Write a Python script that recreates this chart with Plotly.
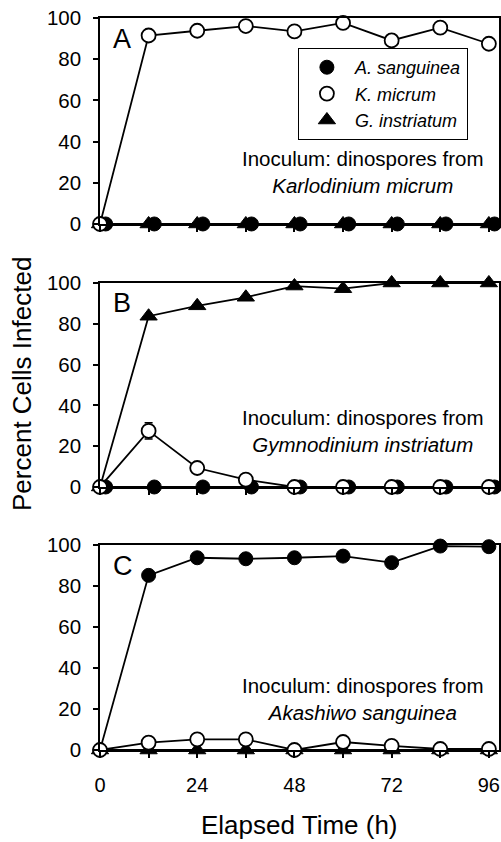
import plotly.graph_objects as go
from plotly.subplots import make_subplots

# ---------------- data ----------------
hours = [0, 12, 24, 36, 48, 60, 72, 84, 96]
x_tick_vals = [0, 12, 24, 36, 48, 60, 72, 84, 96]
x_tick_text = ["0", "", "24", "", "48", "", "72", "", "96"]
y_tick_vals = [0, 20, 40, 60, 80, 100]

# Panel A: inoculum from Karlodinium micrum
A_asanguinea = [0, 0, 0, 0, 0, 0, 0, 0, 0]
A_kmicrum = [0, 91.5, 93.8, 96.1, 93.5, 97.6, 89.1, 95.3, 87.5]
A_ginstriatum = [0, 0, 0, 0, 0, 0, 0, 0, 0]

# Panel B: inoculum from Gymnodinium instriatum
B_asanguinea = [0, 0, 0, 0, 0, 0, 0, 0, 0]
B_kmicrum = [0, 27.5, 9.3, 3.6, 0, 0, 0, 0, 0]
B_kmicrum_err = [0, 4.0, 0, 0, 0, 0, 0, 0, 0]
B_ginstriatum = [0, 83.7, 88.8, 93.0, 98.5, 97.2, 100, 100, 100]

# Panel C: inoculum from Akashiwo sanguinea
C_asanguinea = [0, 85.2, 93.8, 93.3, 93.8, 94.6, 91.4, 99.5, 99.2]
C_kmicrum = [0, 3.6, 5.2, 5.2, 0, 3.9, 2.0, 0.5, 0.5]
C_ginstriatum = [0, 0, 0, 0, 0, 0, 0, 0, 0]

panel_letters = ["A", "B", "C"]
inoculum_species = ["Karlodinium micrum", "Gymnodinium instriatum", "Akashiwo sanguinea"]
series_names = ["A. sanguinea", "K. micrum", "G. instriatum"]

# ---------------- style ----------------
FONT = "Liberation Sans, Arial, Helvetica, sans-serif"
BLACK = "black"
LW = 1.8
filled_shift = [1.4, 1.4, 0.0]   # small horizontal display offset of overlapping series

fig = make_subplots(rows=3, cols=1, shared_xaxes=False, vertical_spacing=0.0)

domains = [[0.7186, 1.0], [0.3593, 0.638], [0.0, 0.280]]

panels = [
    (A_asanguinea, A_kmicrum, None, A_ginstriatum),
    (B_asanguinea, B_kmicrum, B_kmicrum_err, B_ginstriatum),
    (C_asanguinea, C_kmicrum, None, C_ginstriatum),
]

marker_styles = {
    "ginst": dict(symbol="triangle-up", size=15, color=BLACK, line=dict(color=BLACK, width=1)),
    "asang": dict(symbol="circle", size=14, color=BLACK, line=dict(color=BLACK, width=1)),
    "kmic": dict(symbol="circle", size=14, color="white", line=dict(color=BLACK, width=1.8)),
}


def add_series(row, x, y, key, name, rank, show, err=None):
    fig.add_trace(go.Scatter(
        x=x, y=y, mode="lines", showlegend=False, cliponaxis=False, hoverinfo="skip",
        line=dict(color=BLACK, width=LW),
    ), row=row, col=1)
    fig.add_trace(go.Scatter(
        x=x, y=y, mode="markers", name="<i>" + name + "</i>",
        legendrank=rank, showlegend=show, cliponaxis=False, error_y=err,
        marker=marker_styles[key],
    ), row=row, col=1)


for i, (asang, kmic, kerr, ginst) in enumerate(panels):
    row = i + 1
    show = (i == 0)
    add_series(row, hours, ginst, "ginst", series_names[2], 3, show)
    add_series(row, [h + filled_shift[i] for h in hours], asang, "asang", series_names[0], 1, show)
    err = None
    if kerr is not None:
        err = dict(type="data", array=kerr, visible=True, color=BLACK, thickness=1.5, width=4)
    add_series(row, hours, kmic, "kmic", series_names[1], 2, show, err)

    xa = "xaxis" if i == 0 else f"xaxis{row}"
    ya = "yaxis" if i == 0 else f"yaxis{row}"
    fig.layout[xa].update(
        range=[0, 98.5], tickvals=x_tick_vals, ticktext=x_tick_text, automargin=False,
        showticklabels=(i == 2), ticks="outside", ticklen=6, tickwidth=1.5,
        tickcolor=BLACK, showline=True, linecolor=BLACK, linewidth=1.5, mirror=True,
        showgrid=False, zeroline=False, ticklabelstandoff=10, ticklabeloverflow="allow",
        tickfont=dict(family=FONT, size=20, color=BLACK),
    )
    fig.layout[ya].update(
        range=[0, 100], tickvals=y_tick_vals, domain=domains[i], automargin=False,
        ticks="outside", ticklen=5, tickwidth=1.5, tickcolor=BLACK,
        showline=True, linecolor=BLACK, linewidth=1.5, mirror=True,
        showgrid=False, zeroline=False, ticklabelstandoff=8, ticklabeloverflow="allow",
        tickfont=dict(family=FONT, size=20.5, color=BLACK),
    )
    xref = "x" if i == 0 else f"x{row}"
    yref = "y" if i == 0 else f"y{row}"
    fig.add_annotation(
        xref=xref + " domain", yref=yref + " domain", x=0.028, y=0.9,
        xanchor="left", yanchor="middle", text=panel_letters[i], showarrow=False,
        font=dict(family=FONT, size=27, color=BLACK),
    )
    ann_y = [0.252, 0.275, 0.249][i]
    fig.add_annotation(
        xref=xref + " domain", yref=yref + " domain", x=0.658, y=ann_y,
        xanchor="center", yanchor="middle", align="center", showarrow=False,
        text="Inoculum: dinospores from<br><i>" + inoculum_species[i] + "</i>",
        font=dict(family=FONT, size=20.5, color=BLACK),
    )

fig.add_annotation(
    xref="paper", yref="paper", x=-0.1955, y=0.5, xanchor="center", yanchor="middle",
    text="Percent Cells Infected", textangle=-90, showarrow=False,
    font=dict(family=FONT, size=26, color=BLACK),
)
fig.add_annotation(
    xref="paper", yref="paper", x=0.5, y=-0.1025, xanchor="center", yanchor="middle",
    text="Elapsed Time (h)", showarrow=False,
    font=dict(family=FONT, size=26, color=BLACK),
)

fig.update_layout(
    width=501, height=842,
    margin=dict(l=100, r=2, t=18, b=92, autoexpand=False),
    plot_bgcolor="white", paper_bgcolor="white",
    legend=dict(
        x=0.496, y=0.959, xanchor="left", yanchor="top",
        bordercolor=BLACK, borderwidth=1, bgcolor="white",
        font=dict(family=FONT, size=18, color=BLACK),
        itemwidth=46, tracegroupgap=0,
    ),
    showlegend=True,
)

# remove the default page margin so the 501x842 figure fills the window exactly
fig.write_html(
    "out.html",
    config={"displayModeBar": False},
    post_script="document.body.style.margin='0px';document.body.style.overflow='hidden';",
)
